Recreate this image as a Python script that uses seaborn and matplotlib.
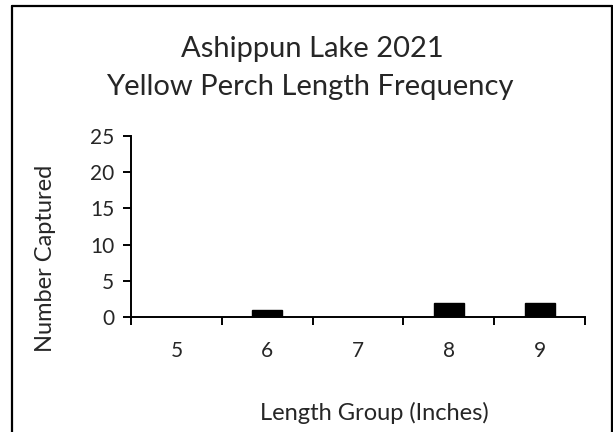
import matplotlib
matplotlib.use("Agg")
import matplotlib.pyplot as plt
import seaborn as sns
import numpy as np
from matplotlib.lines import Line2D

length_groups = ["5", "6", "7", "8", "9"]
captured = [0, 1, 0, 2, 2]

sns.set_style("white")
plt.rcParams['font.family'] = ['Lato', 'DejaVu Sans']

fig = plt.figure(figsize=(6.13, 4.32), dpi=100)
# plot area: x 131..585 px, y 136..317 px
ax = fig.add_axes([131 / 613, 1 - 317 / 432, 454 / 613, 181 / 432])

sns.barplot(x=length_groups, y=captured, color="black", width=0.33,
            edgecolor="black", ax=ax)

ax.set_ylim(0, 25)
ax.set_yticks(range(0, 26, 5))
ax.set_xlim(-0.5, len(length_groups) - 0.5)
ax.set_xticks(np.arange(-0.5, len(length_groups), 1.0), minor=True)
ax.tick_params(axis="x", which="major", length=0, pad=17, labelsize=15)
ax.tick_params(axis="x", which="minor", length=6, width=1.4, direction="out", color="black")
ax.tick_params(axis="y", length=6, width=1.4, direction="out", color="black", labelsize=15, pad=6)
ax.xaxis.set_ticks_position("bottom")
ax.yaxis.set_ticks_position("left")

sns.despine(ax=ax, top=True, right=True)
for s in ["left", "bottom"]:
    ax.spines[s].set_color("black")
    ax.spines[s].set_linewidth(1.4)

ax.set_xlabel("")
ax.set_ylabel("")
fig.text(374 / 613, 1 - 420 / 432, "Length Group (Inches)", ha="center", va="baseline",
         fontsize=17)
fig.text(46 / 613, 1 - 258 / 432, "Number Captured", ha="center", va="center",
         rotation=90, fontsize=17)
fig.text(312 / 613, 1 - 57 / 432, "Ashippun Lake 2021", ha="center", va="baseline",
         fontsize=21)
fig.text(310 / 613, 1 - 95 / 432, "Yellow Perch Length Frequency", ha="center",
         va="baseline", fontsize=21)

# chart-area frame (bottom edge lies outside the picture)
top = 1 - 6 / 432
for xs, ys in [([12 / 613, 12 / 613], [0, top]),
               ([12 / 613, 612 / 613], [top, top]),
               ([612 / 613, 612 / 613], [0, top])]:
    fig.add_artist(Line2D(xs, ys, transform=fig.transFigure, color="black", linewidth=1.6))

fig.savefig("out.png", dpi=100)
